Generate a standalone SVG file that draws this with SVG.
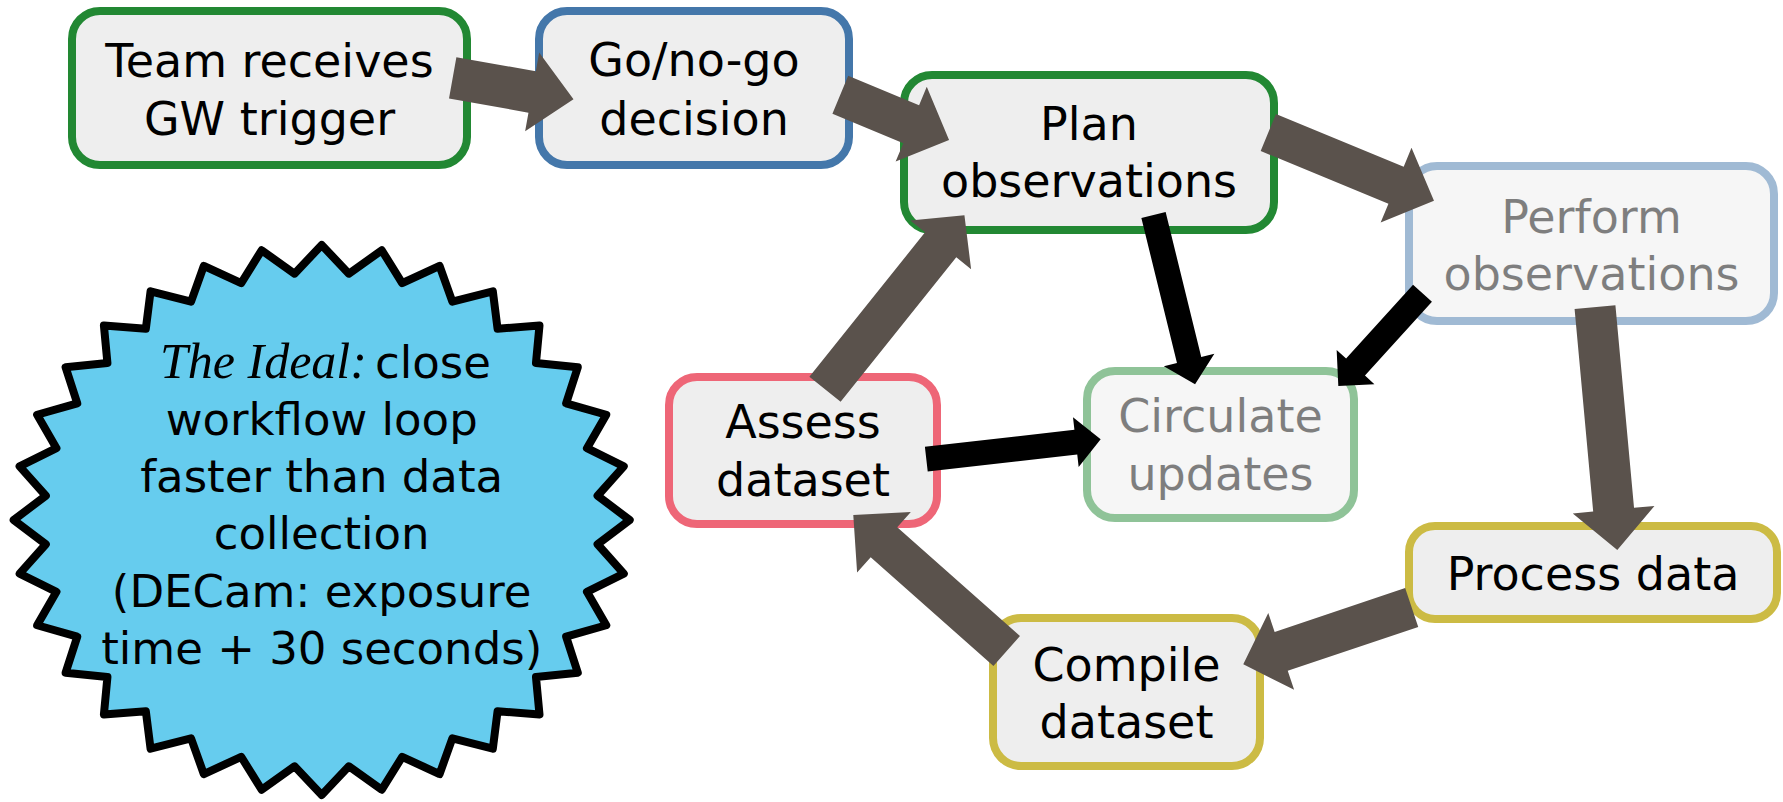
<svg xmlns="http://www.w3.org/2000/svg" width="1783" height="802" viewBox="0 0 1783 802">
  <style>
    .box { fill: #eeeeee; stroke-width: 8; }
    .lbl { font-family: "DejaVu Sans", "Liberation Sans", sans-serif; font-size: 46px; fill: #000000; text-anchor: middle; }
    .faded { opacity: 0.5; }
    .garrow { fill: #5a524c; }
    .barrow { fill: #000000; }
    .startxt { font-family: "DejaVu Sans", "Liberation Sans", sans-serif; font-size: 45px; fill: #000000; text-anchor: middle; }
    .startxt0 { font-family: "DejaVu Sans", "Liberation Sans", sans-serif; font-size: 45px; fill: #000000; text-anchor: start; }
    .script { font-family: "Liberation Serif", "DejaVu Serif", serif; font-style: italic; font-size: 50px; }
  </style>

  <g id="star">
    <polygon transform="translate(321.7,520) scale(3.08,2.75)" vector-effect="non-scaling-stroke" fill="#66ccee" stroke="#000000" stroke-width="8" stroke-linejoin="round"
      points="0,-100 8.82,-89.57 19.51,-98.08 26.13,-86.12 38.27,-92.39 42.43,-79.37 55.56,-83.15 57.10,-69.57 70.71,-70.71 69.57,-57.10 83.15,-55.56 79.37,-42.43 92.39,-38.27 86.12,-26.13 98.08,-19.51 89.57,-8.82 100,0 89.57,8.82 98.08,19.51 86.12,26.13 92.39,38.27 79.37,42.43 83.15,55.56 69.57,57.10 70.71,70.71 57.10,69.57 55.56,83.15 42.43,79.37 38.27,92.39 26.13,86.12 19.51,98.08 8.82,89.57 0,100 -8.82,89.57 -19.51,98.08 -26.13,86.12 -38.27,92.39 -42.43,79.37 -55.56,83.15 -57.10,69.57 -70.71,70.71 -69.57,57.10 -83.15,55.56 -79.37,42.43 -92.39,38.27 -86.12,26.13 -98.08,19.51 -89.57,8.82 -100,0 -89.57,-8.82 -98.08,-19.51 -86.12,-26.13 -92.39,-38.27 -79.37,-42.43 -83.15,-55.56 -69.57,-57.10 -70.71,-70.71 -57.10,-69.57 -55.56,-83.15 -42.43,-79.37 -38.27,-92.39 -26.13,-86.12 -19.51,-98.08 -8.82,-89.57"/>
    <text class="startxt0" x="160" y="378"><tspan class="script">The Ideal:</tspan><tspan x="375">close</tspan></text>
    <text class="startxt" x="321.7" y="435">workflow loop</text>
    <text class="startxt" x="321.7" y="492">faster than data</text>
    <text class="startxt" x="321.7" y="549">collection</text>
    <text class="startxt" x="321.7" y="607">(DECam: exposure</text>
    <text class="startxt" x="321.7" y="664">time + 30 seconds)</text>
  </g>

  <g id="node-team">
    <rect class="box" x="72" y="11" width="395" height="154" rx="28" stroke="#228833"/>
    <text class="lbl" x="269.5" y="77">Team receives</text>
    <text class="lbl" x="269.5" y="135">GW trigger</text>
  </g>
  <g id="node-gonogo">
    <rect class="box" x="539" y="11" width="310" height="154" rx="28" stroke="#4477aa"/>
    <text class="lbl" x="694" y="76">Go/no-go</text>
    <text class="lbl" x="694" y="135">decision</text>
  </g>
  <g id="node-plan">
    <rect class="box" x="904" y="75" width="370" height="155" rx="28" stroke="#228833"/>
    <text class="lbl" x="1089" y="140">Plan</text>
    <text class="lbl" x="1089" y="197">observations</text>
  </g>
  <g id="node-perform" class="faded">
    <rect class="box" x="1409" y="166" width="365" height="155" rx="28" stroke="#4477aa"/>
    <text class="lbl" x="1591.5" y="233">Perform</text>
    <text class="lbl" x="1591.5" y="290">observations</text>
  </g>
  <g id="node-circulate" class="faded">
    <rect class="box" x="1087" y="371" width="267" height="147" rx="28" stroke="#228833"/>
    <text class="lbl" x="1220.5" y="432">Circulate</text>
    <text class="lbl" x="1220.5" y="490">updates</text>
  </g>
  <g id="node-assess">
    <rect class="box" x="669" y="377" width="268" height="147" rx="28" stroke="#ee6677"/>
    <text class="lbl" x="803" y="438">Assess</text>
    <text class="lbl" x="803" y="496">dataset</text>
  </g>
  <g id="node-process">
    <rect class="box" x="1409" y="526" width="368" height="93" rx="26" stroke="#ccbb44"/>
    <text class="lbl" x="1593" y="590">Process data</text>
  </g>
  <g id="node-compile">
    <rect class="box" x="993" y="618" width="267" height="148" rx="28" stroke="#ccbb44"/>
    <text class="lbl" x="1126.5" y="681">Compile</text>
    <text class="lbl" x="1126.5" y="738">dataset</text>
  </g>

  <g id="connectors">
    <polygon class="garrow" transform="translate(452.7,77.8) rotate(10.1)" points="0,-21 80.7,-21 80.7,-40 122.7,0 80.7,40 80.7,21 0,21"/>
    <polygon class="garrow" transform="translate(840.3,94.7) rotate(22.6)" points="0,-20.5 76.8,-20.5 76.8,-40.5 117.8,0 76.8,40.5 76.8,20.5 0,20.5"/>
    <polygon class="garrow" transform="translate(1268.3,132.5) rotate(22.4)" points="0,-20 138.2,-20 138.2,-40.5 179.2,0 138.2,40.5 138.2,20 0,20"/>
    <polygon class="garrow" transform="translate(1595,307.2) rotate(84.75)" points="0,-20.5 203.4,-20.5 203.4,-41 243.8,0 203.4,41 203.4,20.5 0,20.5"/>
    <polygon class="garrow" transform="translate(1411.7,607.5) rotate(161.4)" points="0,-20.5 137.7,-20.5 137.7,-40.5 177.7,0 137.7,40.5 137.7,20.5 0,20.5"/>
    <polygon class="garrow" transform="translate(1006.7,651) rotate(221.55)" points="0,-20 164,-20 164,-40.5 205,0 164,40.5 164,20 0,20"/>
    <polygon class="garrow" transform="translate(825,389.2) rotate(-51.3)" points="0,-20 185,-20 185,-39 223,0 185,39 185,20 0,20"/>
    <polygon class="barrow" transform="translate(1153.5,215) rotate(76.2)" points="0,-12.5 149.3,-12.5 149.3,-26 174.3,0 149.3,26 149.3,12.5 0,12.5"/>
    <polygon class="barrow" transform="translate(1422.5,293.3) rotate(132.25)" points="0,-12.75 99.6,-12.75 99.6,-25.5 125.2,0 99.6,25.5 99.6,12.75 0,12.75"/>
    <polygon class="barrow" transform="translate(926.3,459.2) rotate(-6.5)" points="0,-12.5 150.5,-12.5 150.5,-25 175.5,0 150.5,25 150.5,12.5 0,12.5"/>
  </g>
</svg>
